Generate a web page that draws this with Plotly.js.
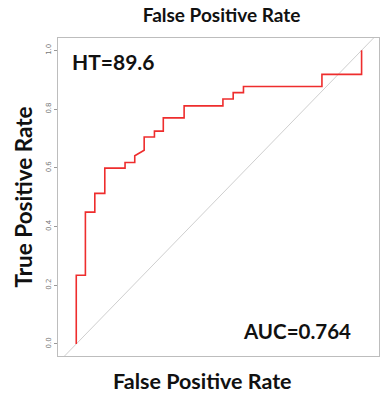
<!DOCTYPE html>
<html>
<head>
<meta charset="utf-8">
<script src="https://cdn.plot.ly/plotly-3.0.1.min.js"></script>
<style>
html,body{margin:0;padding:0;background:#fff;}
#chart{width:386px;height:396px;}
</style>
</head>
<body>
<div id="chart"></div>
<script>
// ROC curve step points (false positive rate, true positive rate)
var fpr = [0, 0, 0.032, 0.032, 0.065, 0.065, 0.100, 0.100, 0.171, 0.171, 0.205, 0.205, 0.238, 0.238, 0.274, 0.274, 0.305, 0.305, 0.378, 0.378, 0.514, 0.514, 0.550, 0.550, 0.586, 0.586, 0.861, 0.861, 1.000, 1.000];
var tpr = [0, 0.234, 0.234, 0.449, 0.449, 0.513, 0.513, 0.599, 0.599, 0.618, 0.618, 0.641, 0.660, 0.705, 0.705, 0.725, 0.725, 0.770, 0.770, 0.811, 0.811, 0.834, 0.834, 0.856, 0.856, 0.877, 0.877, 0.918, 0.918, 1.000];
var diagX = [-0.1, 1.1];
var diagY = [-0.1, 1.1];
var yTickVals = [0, 0.2, 0.4, 0.6, 0.8, 1.0];
var yTickText = ['0.0', '0.2', '0.4', '0.6', '0.8', '1.0'];
var titleText = 'False Positive Rate';
var xTitleText = 'False Positive Rate';
var yTitleText = 'True Positive Rate';
var htLabel = 'HT=89.6';
var aucLabel = 'AUC=0.764';

var FONT = 'Lato, "Open Sans", sans-serif';

var traces = [
  {x: diagX, y: diagY, mode: 'lines', line: {color: '#cfcfcf', width: 1}, hoverinfo: 'skip', showlegend: false},
  {x: fpr, y: tpr, mode: 'lines', line: {color: 'rgb(238,45,45)', width: 1.6}, showlegend: false}
];

var layout = {
  width: 386, height: 396,
  margin: {l: 58, r: 7, t: 38, b: 40},
  paper_bgcolor: '#fff', plot_bgcolor: '#fff',
  title: {text: titleText, font: {family: FONT, size: 19, color: '#111', weight: 'bold'}, x: 0.574, xanchor: 'center', y: 0.961, yref: 'container', yanchor: 'middle'},
  xaxis: {
    range: [-0.064, 1.061], showgrid: false, zeroline: false, showticklabels: false, ticks: '',
    showline: true, mirror: true, linecolor: '#bdbdbd', linewidth: 1.2
  },
  yaxis: {
    range: [-0.041, 1.042], showgrid: false, zeroline: false,
    tickvals: yTickVals, ticktext: yTickText, ticks: 'outside', ticklen: 3, tickcolor: '#999', tickwidth: 1,
    tickangle: -90, tickfont: {family: 'DejaVu Sans, sans-serif', size: 7, color: '#777'},
    showline: true, mirror: true, linecolor: '#bdbdbd', linewidth: 1.2,
    title: {text: yTitleText, font: {family: FONT, size: 22.5, color: '#111', weight: 'bold'}, standoff: 6}
  },
  annotations: [
    {text: xTitleText, xref: 'paper', yref: 'paper', x: 0.45, y: -0.079, xanchor: 'center', yanchor: 'middle', showarrow: false, font: {family: FONT, size: 21.5, color: '#111', weight: 'bold'}},
    {text: htLabel, xref: 'paper', yref: 'paper', x: 0.173, y: 0.925, xanchor: 'center', yanchor: 'middle', showarrow: false, font: {family: FONT, size: 21, color: '#111', weight: 'bold'}},
    {text: aucLabel, xref: 'paper', yref: 'paper', x: 0.745, y: 0.08, xanchor: 'center', yanchor: 'middle', showarrow: false, font: {family: FONT, size: 20.5, color: '#111', weight: 'bold'}}
  ]
};

Plotly.newPlot('chart', traces, layout, {displayModeBar: false, staticPlot: true});
</script>
</body>
</html>
